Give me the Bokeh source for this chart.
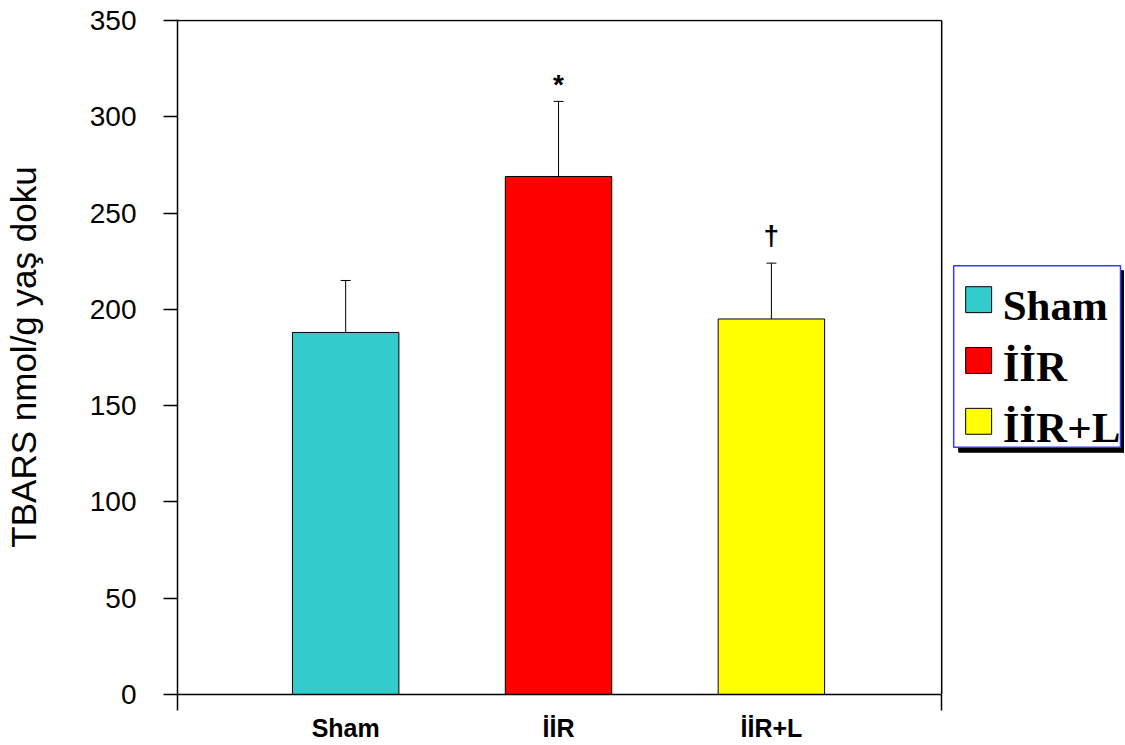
from bokeh.plotting import figure
from bokeh.models import Range1d, FixedTicker, Whisker, ColumnDataSource, TeeHead
from bokeh.core.properties import value
from bokeh.embed import file_html
from bokeh.resources import INLINE

# ---- data ----
categories = ["Sham", "İİR", "İİR+L"]
means = [188, 269, 195]
upper_err = [215, 308, 224]
colors = ["#33CCCC", "#FF0000", "#FFFF00"]
marks = ["", "*", "†"]
y_ticks = [0, 50, 100, 150, 200, 250, 300, 350]
y_label = "TBARS nmol/g yaş doku"

xs = list(range(len(categories)))
mark_offset = {"": 0, "*": -17, "†": -28}

src = ColumnDataSource(dict(
    x=xs, top=means, upper=upper_err, color=colors, mark=marks,
    yoff=[mark_offset[m] for m in marks],
))

# ---- layout geometry (page pixels; the page itself has no margin) ----
W, H = 1124, 744
FL, FB = 176, 696                   # frame left / value-0 line on page
Y350 = 20                           # page y of the top value
FT = Y350 - 1                       # frame top (1px room for the top border line)
AX_END = 941                        # right end of the category axis on page
X0, X1 = -0.79, 2.80                # category axis bounds
YMAX = 350
ppx = (AX_END - FL) / (X1 - X0)
ppy = (FB - Y350) / YMAX
XR = X1 + (W - AX_END) / ppx
YTOP = (FB - FT) / ppy

p = figure(width=W, height=H, x_range=Range1d(X0, XR), y_range=Range1d(0, YTOP),
           output_backend="svg", toolbar_location=None,
           min_border_left=FL, min_border_right=0,
           min_border_top=FT, min_border_bottom=H - FB)
p.outline_line_color = None
p.xgrid.visible = False
p.ygrid.visible = False

# plot box: top and right edges
p.segment(x0=[X0, X1], y0=[YMAX, YMAX], x1=[X1, X1], y1=[YMAX, 0],
          line_color="black", line_width=1.5)

p.vbar(x="x", top="top", width=0.5, bottom=0, fill_color="color", line_color="black",
       line_width=1, source=src)

w = Whisker(source=src, base="x", lower="top", upper="upper", dimension="height",
            line_color="black", line_width=1,
            upper_head=TeeHead(size=10, line_color="black", line_width=1), lower_head=None)
w.level = "overlay"
p.add_layout(w)

p.text(x="x", y="upper", text="mark", y_offset="yoff", text_align="center",
       text_baseline="alphabetic", text_font=value("Liberation Sans"),
       text_font_style="bold", text_font_size="28px", text_color="black", source=src)

# y axis
ya = p.yaxis[0]
ya.ticker = FixedTicker(ticks=y_ticks)
ya.axis_label = y_label
ya.axis_label_text_font = "Liberation Sans"
ya.axis_label_text_font_style = "normal"
ya.axis_label_text_font_size = "35px"
ya.axis_label_text_color = "black"
ya.axis_label_standoff = 44
ya.major_label_text_font = "Liberation Sans"
ya.major_label_text_font_size = "28px"
ya.major_label_text_color = "black"
ya.major_label_standoff = 27
ya.major_tick_out = 14
ya.major_tick_in = 0
ya.minor_tick_out = 0
ya.minor_tick_in = 0
ya.axis_line_color = "black"
ya.axis_line_width = 1.5
ya.major_tick_line_color = "black"
ya.major_tick_line_width = 1.5

# x axis
xa = p.xaxis[0]
xa.bounds = (X0, X1)
xa.ticker = FixedTicker(ticks=xs, minor_ticks=[X0, X1])
xa.major_label_overrides = {i: c for i, c in zip(xs, categories)}
xa.major_label_text_font = "Liberation Sans"
xa.major_label_text_font_style = "bold"
xa.major_label_text_font_size = "25px"
xa.major_label_text_color = "black"
xa.major_label_standoff = 3
xa.major_tick_out = 0
xa.major_tick_in = 0
xa.minor_tick_out = 16
xa.minor_tick_in = 0
xa.minor_tick_line_color = "black"
xa.minor_tick_line_width = 1.5
xa.axis_line_color = "black"
xa.axis_line_width = 1.5

# ---- legend (drawn inside the extended frame; page pixels -> data) ----
def dx(px):
    return X0 + (px - FL) / ppx

def dy(py):
    return (FB - py) / ppy

box_l, box_r, box_t, box_b = 953, 1120, 266, 448
shadow = 5
p.quad(left=[dx(box_l + shadow)], right=[dx(box_r + shadow)],
       top=[dy(box_t + shadow)], bottom=[dy(box_b + shadow)],
       fill_color="black", line_color="black")
p.quad(left=[dx(box_l)], right=[dx(box_r)], top=[dy(box_t)], bottom=[dy(box_b)],
       fill_color="white", line_color="#3838FF", line_width=1.5)

first_center, spacing, sw = 300, 61, 26
centers = [first_center + i * spacing for i in range(len(categories))]
p.quad(left=[dx(965)] * len(categories), right=[dx(965 + sw)] * len(categories),
       top=[dy(c - sw / 2) for c in centers], bottom=[dy(c + sw / 2) for c in centers],
       fill_color=colors, line_color="black", line_width=1)
p.text(x=[dx(1002)] * len(categories), y=[dy(c + 6) for c in centers], text=categories,
       text_align="left", text_baseline="alphabetic", text_font=value("Liberation Serif"),
       text_font_style="bold", text_font_size="43px", text_color="black")

open("out.html", "w").write(file_html(p, INLINE))
